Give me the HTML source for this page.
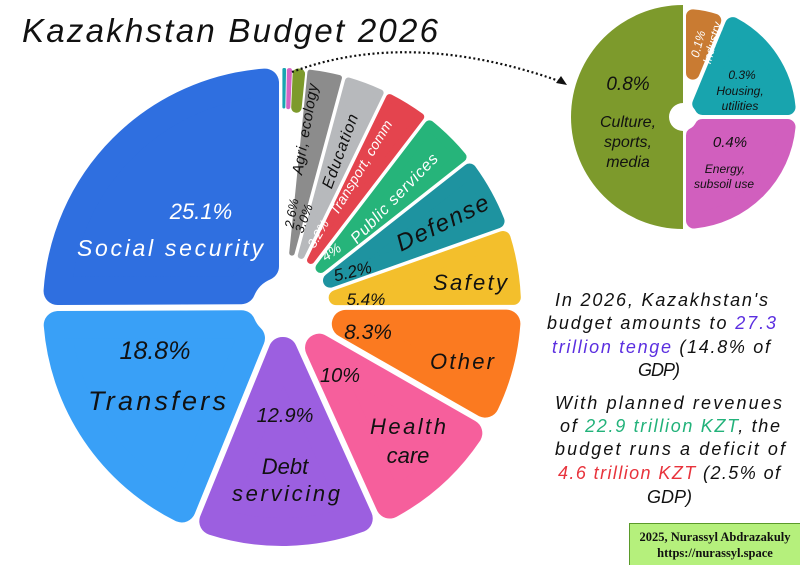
<!DOCTYPE html>
<html><head><meta charset="utf-8"><style>
html,body{margin:0;padding:0;background:#fff;}
svg{display:block;}
text{font-family:"Liberation Sans","DejaVu Sans",sans-serif;}
.l{font-style:italic;}
text.sf{font-family:"Liberation Serif",serif;font-weight:bold;}
</style></head><body>
<svg id="s" width="800" height="565" viewBox="0 0 800 565" xmlns="http://www.w3.org/2000/svg">
<rect width="800" height="565" fill="#fff"/>
<g id="pies"></g>
<text x="22" y="42" font-size="33" class="l" textLength="416" fill="#111">Kazakhstan Budget 2026</text>
<path d="M292,72 Q410,28 562,82" fill="none" stroke="#111" stroke-width="2.2" stroke-dasharray="2,2.6"/>
<polygon points="567,85 556,83 561,76" fill="#111"/>

<g class="l" text-anchor="middle">
<text x="201" y="219" font-size="22" fill="#fff">25.1%</text>
<text x="170" y="256" font-size="23" fill="#fff" textLength="186">Social security</text>
<text x="155" y="359" font-size="25" fill="#111">18.8%</text>
<text x="157" y="410" font-size="27" fill="#111" textLength="138">Transfers</text>
<text x="285" y="422" font-size="20" fill="#111">12.9%</text>
<text x="285" y="474" font-size="22" fill="#111">Debt</text>
<text x="286" y="501" font-size="22" fill="#111" textLength="108">servicing</text>
<text x="340" y="382" font-size="20" fill="#111">10%</text>
<text x="408" y="434" font-size="22" fill="#111" textLength="76">Health</text>
<text x="408" y="463" font-size="22" fill="#111">care</text>
<text x="368" y="339" font-size="21" fill="#111">8.3%</text>
<text x="462" y="369" font-size="22" fill="#111" textLength="64">Other</text>
<text x="366" y="305" font-size="17" fill="#111">5.4%</text>
<text x="470" y="290" font-size="22" fill="#111" textLength="74">Safety</text>
<text x="0" y="0" font-size="17" fill="#111" transform="translate(354,277) rotate(-14)">5.2%</text>
<text x="0" y="0" font-size="24" fill="#111" textLength="100" transform="translate(446,230) rotate(-26)">Defense</text>
<text x="0" y="0" font-size="14" fill="#fff" transform="translate(334,256) rotate(-35)">4%</text>
<text x="0" y="0" font-size="16" fill="#fff" textLength="118" transform="translate(398,202) rotate(-46)">Public services</text>
<text x="0" y="0" font-size="13" fill="#fff" transform="translate(322,236) rotate(-60)">3.2%</text>
<text x="0" y="0" font-size="14" fill="#fff" textLength="108" transform="translate(365,170) rotate(-59)">Transport, comm</text>
<text x="0" y="0" font-size="13" fill="#111" transform="translate(308,220) rotate(-70)">3.0%</text>
<text x="0" y="0" font-size="16" fill="#111" textLength="78" transform="translate(345,153) rotate(-70)">Education</text>
<text x="0" y="0" font-size="13" fill="#111" transform="translate(296,214) rotate(-80)">2.6%</text>
<text x="0" y="0" font-size="15" fill="#111" textLength="92" transform="translate(310,130) rotate(-80)">Agri, ecology</text>

<text x="628" y="90" font-size="19" fill="#111">0.8%</text>
<text x="628" y="127" font-size="16" fill="#111">Culture,</text>
<text x="628" y="147" font-size="16" fill="#111">sports,</text>
<text x="628" y="167" font-size="16" fill="#111">media</text>
<text x="0" y="0" font-size="12" fill="#fff" transform="translate(702,45) rotate(-75)">0.1%</text>
<text x="0" y="0" font-size="12" fill="#fff" transform="translate(716,44) rotate(-75)">Industry</text>
<text x="742" y="79" font-size="12" fill="#111">0.3%</text>
<text x="740" y="95" font-size="12" fill="#111">Housing,</text>
<text x="740" y="110" font-size="12" fill="#111">utilities</text>
<text x="730" y="147" font-size="15" fill="#111">0.4%</text>
<text x="725" y="173" font-size="12" fill="#111">Energy,</text>
<text x="724" y="188" font-size="12" fill="#111">subsoil use</text>
</g>

<g class="l" font-size="18" fill="#111">
<text x="555" y="306" textLength="213">In 2026, Kazakhstan's</text>
<text x="547" y="329" textLength="229">budget amounts to <tspan fill="#5b2fe0">27.3</tspan></text>
<text x="552" y="353" textLength="218"><tspan fill="#5b2fe0">trillion tenge</tspan> (14.8% of</text>
<text x="638" y="376" textLength="42">GDP)</text>
<text x="555" y="409" textLength="227">With planned revenues</text>
<text x="560" y="432" textLength="220">of <tspan fill="#22b27a">22.9 trillion KZT</tspan>, the</text>
<text x="555" y="455" textLength="230">budget runs a deficit of</text>
<text x="558" y="479" textLength="222"><tspan fill="#e8333c">4.6 trillion KZT</tspan> (2.5% of</text>
<text x="647" y="503" textLength="45">GDP)</text>
</g>

<rect x="629.5" y="523.5" width="171" height="42" fill="#b5f07c" stroke="#5a9a2a" stroke-width="1"/>
<g font-size="12.5" fill="#111" text-anchor="middle">
<text class="sf" x="715" y="541">2025, Nurassyl Abdrazakuly</text>
<text class="sf" x="715" y="557">https://nurassyl.space</text>
</g>
</svg>
<script>
(function(){
var g=document.getElementById('pies');var NS='http://www.w3.org/2000/svg';
function u(a){a=a*Math.PI/180;return [Math.sin(a),-Math.cos(a)];}
function wedge(cx,cy,a1,a2,R,rin,gap,dmax,target,col){
 var D=a2-a1, half=D/2*Math.PI/180;
 var d=Math.min(dmax,Math.max(0.4,target*Math.sin(half)-gap/2));
 var s=gap/2+d, ro=R-d, ri=rin+d;
 var r1=a1*Math.PI/180, r2=a2*Math.PI/180;
 var n1=[Math.cos(r1),Math.sin(r1)], n2=[-Math.cos(r2),-Math.sin(r2)];
 var u1=u(a1),u2=u(a2);
 function pt(uu,nn,rho){var t=Math.sqrt(Math.max(rho*rho-s*s,0));return [cx+t*uu[0]+s*nn[0],cy+t*uu[1]+s*nn[1]];}
 var o1=pt(u1,n1,ro),o2=pt(u2,n2,ro);
 var apex=D<180?s/Math.sin(half):0;
 var p='';
 if(apex>=ri){var um=u((a1+a2)/2);var A=[cx+apex*um[0],cy+apex*um[1]];
  p='M'+A+' L'+o1+' A'+ro+' '+ro+' 0 '+(D>180?1:0)+' 1 '+o2+' Z';}
 else{var i1=pt(u1,n1,ri),i2=pt(u2,n2,ri);
  p='M'+i1+' L'+o1+' A'+ro+' '+ro+' 0 '+(D>180?1:0)+' 1 '+o2+' L'+i2+' A'+ri+' '+ri+' 0 0 0 '+i1+' Z';}
 var e=document.createElementNS(NS,'path');e.setAttribute('d',p);e.setAttribute('fill',col);
 e.setAttribute('stroke',col);e.setAttribute('stroke-width',2*d);e.setAttribute('stroke-linejoin','round');
 g.appendChild(e);
}
var cx=282,cy=307,R=239;
var data=[[0.3,'#1aa5b0'],[0.4,'#d564c4'],[0.9,'#7d9a2c'],[2.6,'#8c8c8c'],[3.0,'#b7b9bc'],[3.2,'#e4444e'],[4.0,'#26b47a'],[5.2,'#1e93a0'],[5.4,'#f3bf2c'],[8.3,'#fb7a20'],[10,'#f65f9c'],[12.9,'#9c5fe0'],[18.8,'#39a0f7'],[25.1,'#2f6fe0']];
var tot=0;data.forEach(function(x){tot+=x[0];});
var a=0;
data.forEach(function(x){var D=x[0]/tot*360;var small=x[0]<1;var mid=x[0]<6;
 wedge(cx,cy,a,a+D,R,small?25:30,small?0.8:(mid?3.5:6),14,small?200:(mid?55:70),x[1]);a+=D;});
var c2x=684,c2y=117,R2=112;
var ins=[[0,22.5,'#c97b32'],[22.5,90,'#18a4ae'],[90,180,'#d15fbe'],[180,360,'#7d9a2c']];
ins.forEach(function(x){
 if(x[1]-x[0]>=180){var e=document.createElementNS(NS,'path');
  e.setAttribute('d','M'+(c2x-1)+','+(c2y-R2)+' A'+R2+' '+R2+' 0 0 0 '+(c2x-1)+','+(c2y+R2)+' L'+(c2x-1)+','+(c2y+14)+' A14 14 0 0 1 '+(c2x-1)+','+(c2y-14)+' Z');
  e.setAttribute('fill',x[2]);g.appendChild(e);}
 else wedge(c2x,c2y,x[0],x[1],x[1]-x[0]<30?108:R2,13,4,8,45,x[2]);
});
var h=document.createElementNS(NS,'circle');h.setAttribute('cx',c2x);h.setAttribute('cy',c2y);h.setAttribute('r',13);h.setAttribute('fill','#fff');g.appendChild(h);
})();
</script>
</body></html>
